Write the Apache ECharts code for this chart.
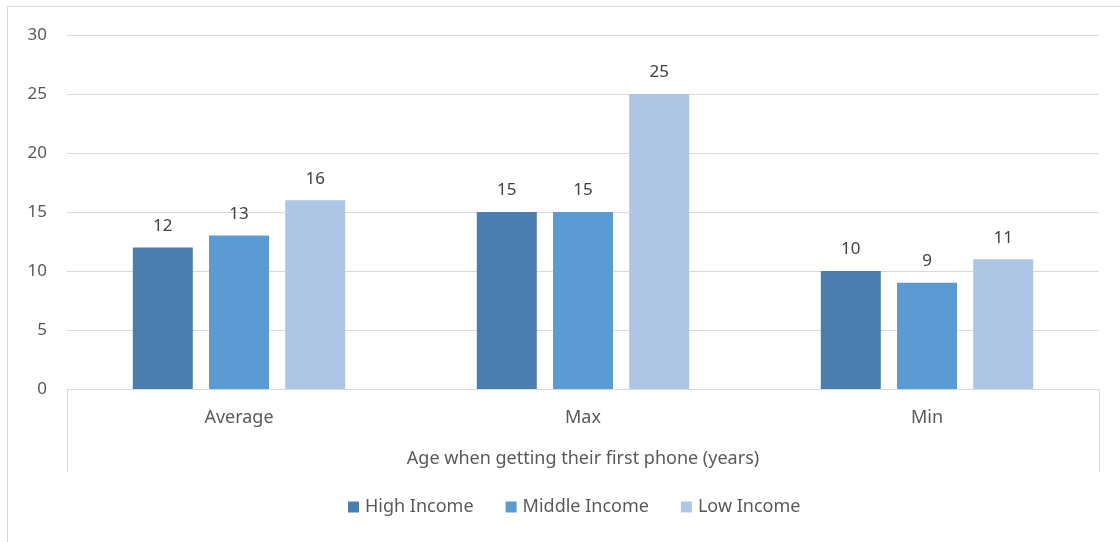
<!DOCTYPE html>
<html>
<head>
<meta charset="utf-8">
<script src="https://cdn.jsdelivr.net/npm/echarts@6/dist/echarts.min.js"></script>
<style>
  html, body { margin: 0; padding: 0; background: #fff; }
  #chart { width: 1120px; height: 542px; }
</style>
</head>
<body>
<div id="chart"></div>
<script>
// Age when getting their first phone, by income group
const categories = ['Average', 'Max', 'Min'];
const groupLabel = 'Age when getting their first phone (years)';
const highIncome = [12, 15, 10];
const middleIncome = [13, 15, 9];
const lowIncome = [16, 25, 11];
const yTicks = { min: 0, max: 30, interval: 5 };

const FONT = 'Noto Sans';
const TEXT = '#595959';
const LINE = '#d9d9d9';

const chart = echarts.init(document.getElementById('chart'));

function barSeries(name, data, color) {
  return {
    name: name,
    type: 'bar',
    data: data,
    barWidth: 60,
    barGap: '27%',
    itemStyle: { color: color },
    label: {
      show: true,
      position: 'top',
      distance: 13,
      color: '#404040',
      fontFamily: FONT,
      fontSize: 17
    }
  };
}

chart.setOption({
  animation: false,
  backgroundColor: '#fff',
  textStyle: { fontFamily: FONT },
  graphic: [{
    type: 'rect',
    shape: { x: 7.5, y: 6.5, width: 1300, height: 700 },
    style: { fill: 'none', stroke: LINE, lineWidth: 1 },
    silent: true
  }],
  grid: { left: 67, right: 21, top: 35, bottom: 153 },
  legend: {
    bottom: 21,
    left: 343,
    icon: 'rect',
    itemWidth: 11,
    itemHeight: 11,
    itemGap: 32,
    itemStyle: { borderWidth: 0 },
    textStyle: { color: TEXT, fontFamily: FONT, fontSize: 18, padding: [0, 0, 0, 1] }
  },
  xAxis: [{
    type: 'category',
    data: categories,
    position: 'bottom',
    axisLine: { show: true, lineStyle: { color: LINE, width: 1 } },
    axisTick: { show: false },
    axisLabel: { color: TEXT, fontFamily: FONT, fontSize: 18, margin: 20 }
  }, {
    type: 'category',
    data: [groupLabel],
    position: 'bottom',
    axisLine: { show: false },
    axisTick: { show: true, length: 83, lineStyle: { color: LINE, width: 1 } },
    axisLabel: { color: TEXT, fontFamily: FONT, fontSize: 18, margin: 61 }
  }],
  yAxis: {
    type: 'value',
    min: yTicks.min,
    max: yTicks.max,
    interval: yTicks.interval,
    axisLine: { show: false },
    axisTick: { show: false },
    splitLine: { lineStyle: { color: LINE, width: 1 } },
    axisLabel: { color: TEXT, fontFamily: FONT, fontSize: 17, margin: 20 }
  },
  series: [
    barSeries('High Income', highIncome, '#4a7eb0'),
    barSeries('Middle Income', middleIncome, '#5b9bd5'),
    barSeries('Low Income', lowIncome, '#adc6e6')
  ]
});
</script>
</body>
</html>
